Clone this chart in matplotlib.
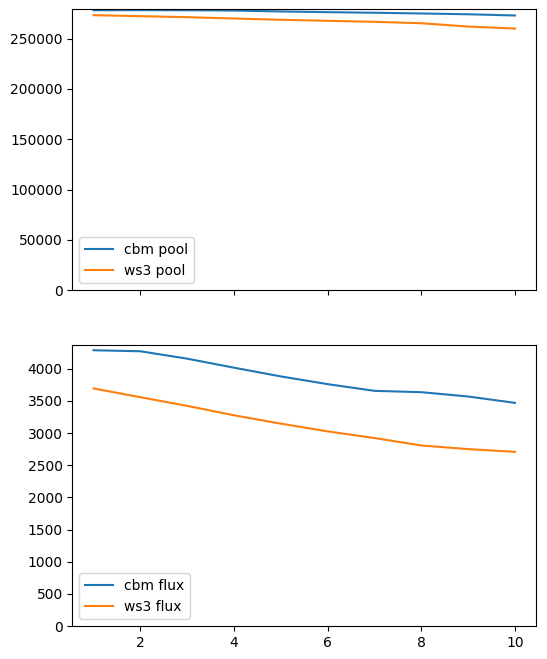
import numpy as np
import matplotlib.pyplot as plt

periods = [1, 2, 3, 4, 5, 6, 7, 8, 9, 10]
cbm_pool = [278200, 278300, 278200, 277900, 277000, 276300, 275700, 275000, 274200, 273000]
ws3_pool = [273300, 272300, 271300, 270000, 268700, 267700, 266700, 265300, 262000, 260000]
cbm_flux = [4287, 4271, 4156, 4016, 3880, 3760, 3656, 3635, 3568, 3469]
ws3_flux = [3693, 3557, 3422, 3276, 3146, 3026, 2922, 2807, 2750, 2708]

fig, ax = plt.subplots(2, 1, sharex=True, figsize=(5.47, 6.59), dpi=100)
plt.subplots_adjust(left=0.1325, right=0.98, top=0.986, bottom=0.05, hspace=0.196)

ax[0].plot(periods, cbm_pool, label='cbm pool')
ax[0].plot(periods, ws3_pool, label='ws3 pool')
ax[0].set_ylim(0, None)
ax[0].legend(loc='lower left')

ax[1].plot(periods, cbm_flux, label='cbm flux')
ax[1].plot(periods, ws3_flux, label='ws3 flux')
ax[1].set_ylim(0, None)
ax[1].legend(loc='lower left')

plt.savefig('out.png')
